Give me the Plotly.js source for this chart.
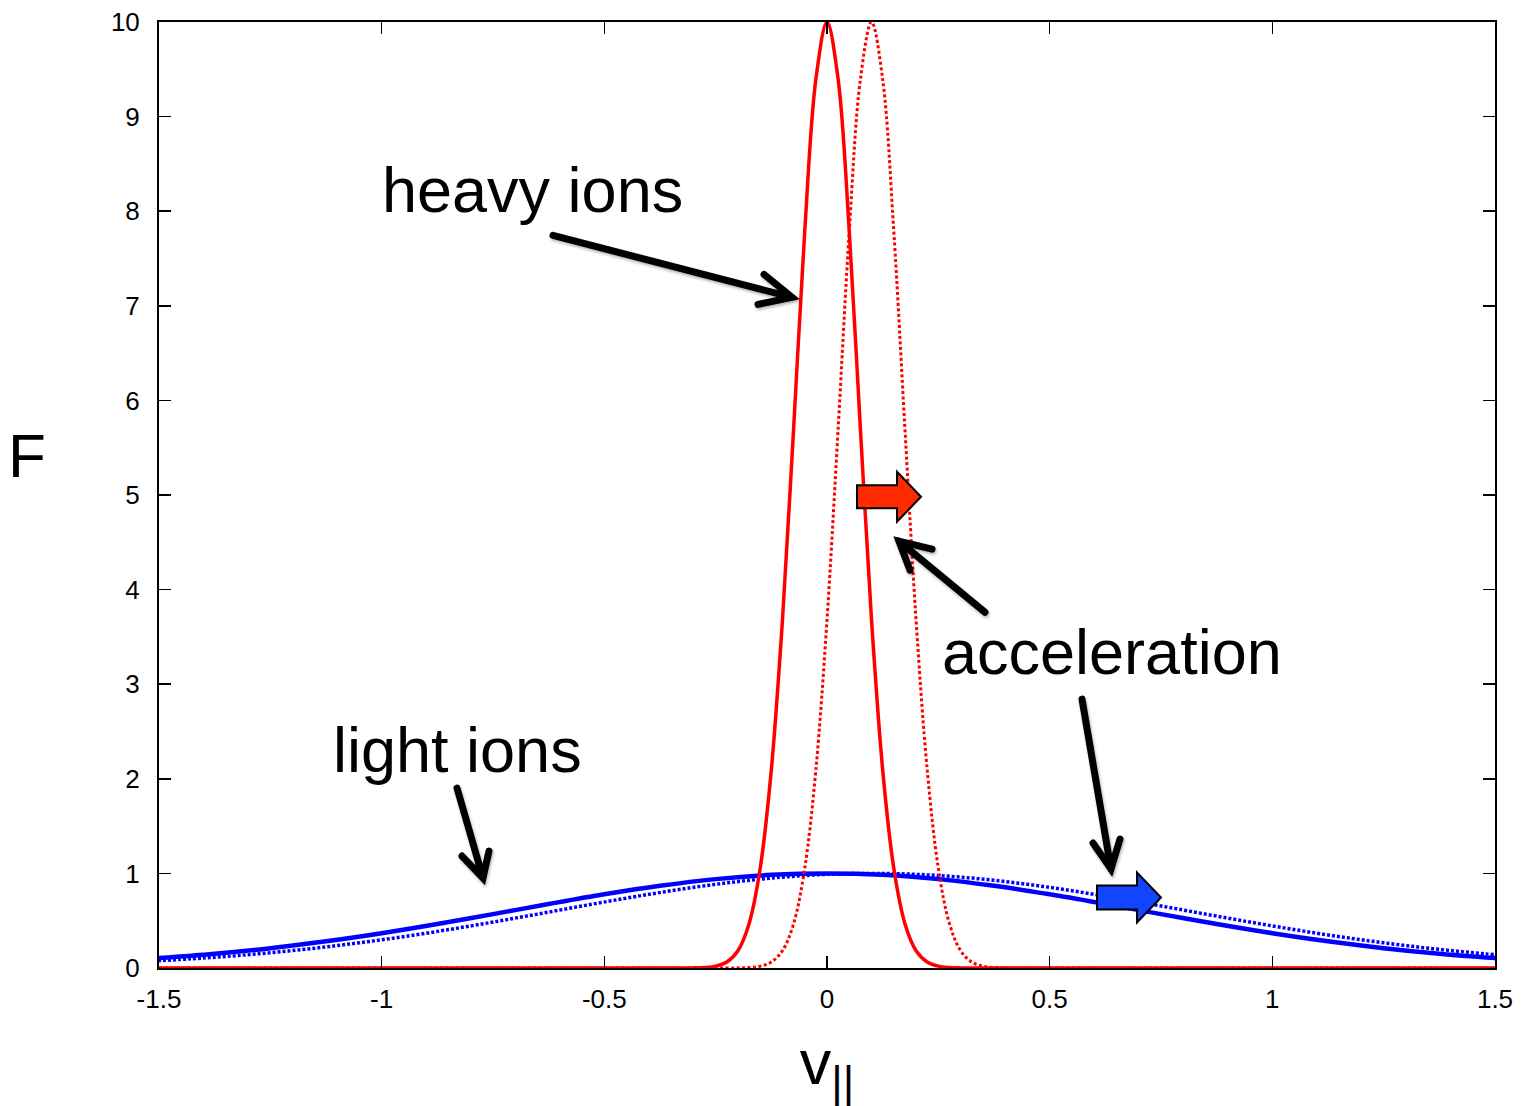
<!DOCTYPE html>
<html>
<head>
<meta charset="utf-8">
<script src="https://cdn.plot.ly/plotly-3.0.1.min.js"></script>
<style>
  html, body { margin: 0; padding: 0; background: #fff; }
  #plot { width: 1526px; height: 1106px; }
  /* rounded, lightly shadowed pointer arrows */
  .shapelayer path[style*="stroke-width: 7px"] {
    stroke-linecap: round;
    stroke-linejoin: miter;
    filter: drop-shadow(1px 2px 1.5px rgba(0,0,0,0.3));
  }
</style>
</head>
<body>
<div id="plot"></div>
<script>
// Distribution functions F(v||): heavy ions (narrow) and light ions (broad),
// solid = initial, dotted = after acceleration.
const heavyX = [-1.5, -0.4, -0.35, -0.3, -0.275, -0.25, -0.225, -0.2, -0.175, -0.15, -0.125, -0.1, -0.075, -0.05, -0.025,
  0, 0.025, 0.05, 0.075, 0.1, 0.125, 0.15, 0.175, 0.2, 0.225, 0.25, 0.275, 0.3, 0.35, 0.4, 1.5];
const heavyF = [0, 0, 0, 0.0012, 0.0052, 0.0193, 0.0633, 0.183, 0.468, 1.054, 2.096, 3.679, 5.698, 7.788, 9.394,
  10, 9.394, 7.788, 5.698, 3.679, 2.096, 1.054, 0.468, 0.183, 0.0633, 0.0193, 0.0052, 0.0012, 0, 0, 0];

const heavyAccX = [-1.5, -0.3, -0.25, -0.2, -0.175, -0.15, -0.125, -0.1, -0.075, -0.05, -0.025, 0, 0.025, 0.05, 0.075,
  0.1, 0.125, 0.15, 0.175, 0.2, 0.225, 0.25, 0.275, 0.3, 0.325, 0.35, 0.375, 0.4, 0.45, 0.5, 1.5];
const heavyAccF = [0, 0, 0, 0.0012, 0.0052, 0.0193, 0.0633, 0.183, 0.468, 1.054, 2.096, 3.679, 5.698, 7.788, 9.394,
  10, 9.394, 7.788, 5.698, 3.679, 2.096, 1.054, 0.468, 0.183, 0.0633, 0.0193, 0.0052, 0.0012, 0, 0, 0];

const lightX = [-1.5, -1.375, -1.25, -1.125, -1, -0.875, -0.75, -0.625, -0.5, -0.375, -0.25, -0.125,
  0, 0.125, 0.25, 0.375, 0.5, 0.625, 0.75, 0.875, 1, 1.125, 1.25, 1.375, 1.5];
const lightF = [0.1054, 0.1510, 0.2096, 0.2821, 0.3679, 0.4651, 0.5698, 0.6766, 0.7788, 0.8688, 0.9394, 0.9845,
  1, 0.9845, 0.9394, 0.8688, 0.7788, 0.6766, 0.5698, 0.4651, 0.3679, 0.2821, 0.2096, 0.1510, 0.1054];

const lightAccX = [-1.525, -1.4, -1.275, -1.15, -1.025, -0.9, -0.775, -0.65, -0.525, -0.4, -0.275, -0.15, -0.025,
  0.1, 0.225, 0.35, 0.475, 0.6, 0.725, 0.85, 0.975, 1.1, 1.225, 1.35, 1.475, 1.6];
const lightAccF = [0.0713, 0.1054, 0.1510, 0.2096, 0.2821, 0.3679, 0.4651, 0.5698, 0.6766, 0.7788, 0.8688, 0.9394, 0.9845,
  1, 0.9845, 0.9394, 0.8688, 0.7788, 0.6766, 0.5698, 0.4651, 0.3679, 0.2821, 0.2096, 0.1510, 0.1054];

const xTickVals = [-1.5, -1, -0.5, 0, 0.5, 1, 1.5];
const xTickText = ['-1.5', '-1', '-0.5', '0', '0.5', '1', '1.5'];
const yTickVals = [0, 1, 2, 3, 4, 5, 6, 7, 8, 9, 10];
const yTickText = ['0', '1', '2', '3', '4', '5', '6', '7', '8', '9', '10'];

const labelHeavy = 'heavy ions';
const labelLight = 'light ions';
const labelAcc = 'acceleration';

// Layout geometry (pixels) of the plotting frame
const W = 1526, H = 1106;
const L = 159, R = 1495, T = 21.5, B = 968;
const X_MIN = -1.5, X_MAX = 1.5, Y_MIN = 0, Y_MAX = 10;
const px = p => X_MIN + (p - L) * (X_MAX - X_MIN) / (R - L);
const py = p => Y_MIN + (B - p) * (Y_MAX - Y_MIN) / (B - T);
const path = pts => pts.map((p, i) => (i ? 'L' : 'M') + px(p[0]).toFixed(4) + ',' + py(p[1]).toFixed(4)).join(' ');

const FONT = 'Liberation Sans, Arial, Helvetica, sans-serif';

const traces = [
  { x: lightX, y: lightF, mode: 'lines', line: { color: '#0000ff', width: 4.5, shape: 'spline' }, hoverinfo: 'skip' },
  { x: lightAccX, y: lightAccF, mode: 'lines', line: { color: '#0000ff', width: 3.5, dash: '3px,2px', shape: 'spline' }, hoverinfo: 'skip' },
  { x: heavyX, y: heavyF, mode: 'lines', line: { color: '#ff0000', width: 3.5, shape: 'spline' }, hoverinfo: 'skip' },
  { x: heavyAccX, y: heavyAccF, mode: 'lines', line: { color: '#ff0000', width: 3, dash: '3px,2.5px', shape: 'spline' }, hoverinfo: 'skip' }
];

// Pointer arrows: shaft + open chevron head
function pointer(from, tip, armA, armB) {
  return {
    type: 'path', xref: 'x', yref: 'y', layer: 'above',
    path: path([from, tip]) + ' ' + path([armA, tip, armB]),
    line: { color: '#000', width: 7 }
  };
}
// Block arrows marking the shift direction
function block(x0, x1, x2, yc, hb, hh, fill) {
  const pts = [[x0, yc - hb], [x1, yc - hb], [x1, yc - hh], [x2, yc], [x1, yc + hh], [x1, yc + hb], [x0, yc + hb]];
  return {
    type: 'path', xref: 'x', yref: 'y', layer: 'above',
    path: path(pts) + ' Z',
    fillcolor: fill, line: { color: '#000', width: 2 }
  };
}

const shapes = [
  pointer([553, 235], [792, 297], [764, 274], [758, 304]),
  pointer([457, 788], [483, 878], [462, 856], [489, 851]),
  pointer([985, 612], [899, 541], [932, 549], [910, 570]),
  pointer([1082, 699], [1111, 869], [1093, 843], [1120, 839]),
  block(857, 897, 921, 496.5, 11.5, 25, '#ff2a00'),
  block(1097, 1137, 1161, 897.5, 12, 25, '#1245ff')
];

const ann = (text, left, cy, size) => ({
  text: text, xref: 'x', yref: 'y', x: px(left), y: py(cy),
  xanchor: 'left', yanchor: 'middle', showarrow: false,
  font: { family: FONT, size: size, color: '#000' }
});

const layout = {
  width: W, height: H,
  margin: { l: L, r: W - R, t: T, b: H - B, pad: 0 },
  paper_bgcolor: '#fff', plot_bgcolor: '#fff',
  showlegend: false,
  font: { family: FONT, color: '#000' },
  xaxis: {
    range: [X_MIN, X_MAX], tickmode: 'array', tickvals: xTickVals, ticktext: xTickText,
    ticks: 'inside', ticklen: 12, tickwidth: 1.5, tickcolor: '#000',
    showline: true, linecolor: '#000', linewidth: 2, mirror: 'ticks',
    showgrid: false, zeroline: false, ticklabelstandoff: 7,
    tickfont: { family: FONT, size: 26, color: '#000' },
    title: { text: 'v<sub>||</sub>', font: { family: FONT, size: 63, color: '#000' }, standoff: 30 }
  },
  yaxis: {
    range: [Y_MIN, Y_MAX], tickmode: 'array', tickvals: yTickVals, ticktext: yTickText,
    ticks: 'inside', ticklen: 12, tickwidth: 1.5, tickcolor: '#000',
    showline: true, linecolor: '#000', linewidth: 2, mirror: 'ticks',
    showgrid: false, zeroline: false, ticklabelstandoff: 12,
    tickfont: { family: FONT, size: 26, color: '#000' }
  },
  shapes: shapes,
  annotations: [
    ann(labelHeavy, 380, 190, 63),
    ann(labelLight, 331, 750, 63),
    ann(labelAcc, 940, 652, 63),
    Object.assign(ann('F', 6, 455, 62), { xref: 'paper', x: (6 - L) / (R - L) })
  ]
};

Plotly.newPlot('plot', traces, layout, { staticPlot: true });
</script>
</body>
</html>
